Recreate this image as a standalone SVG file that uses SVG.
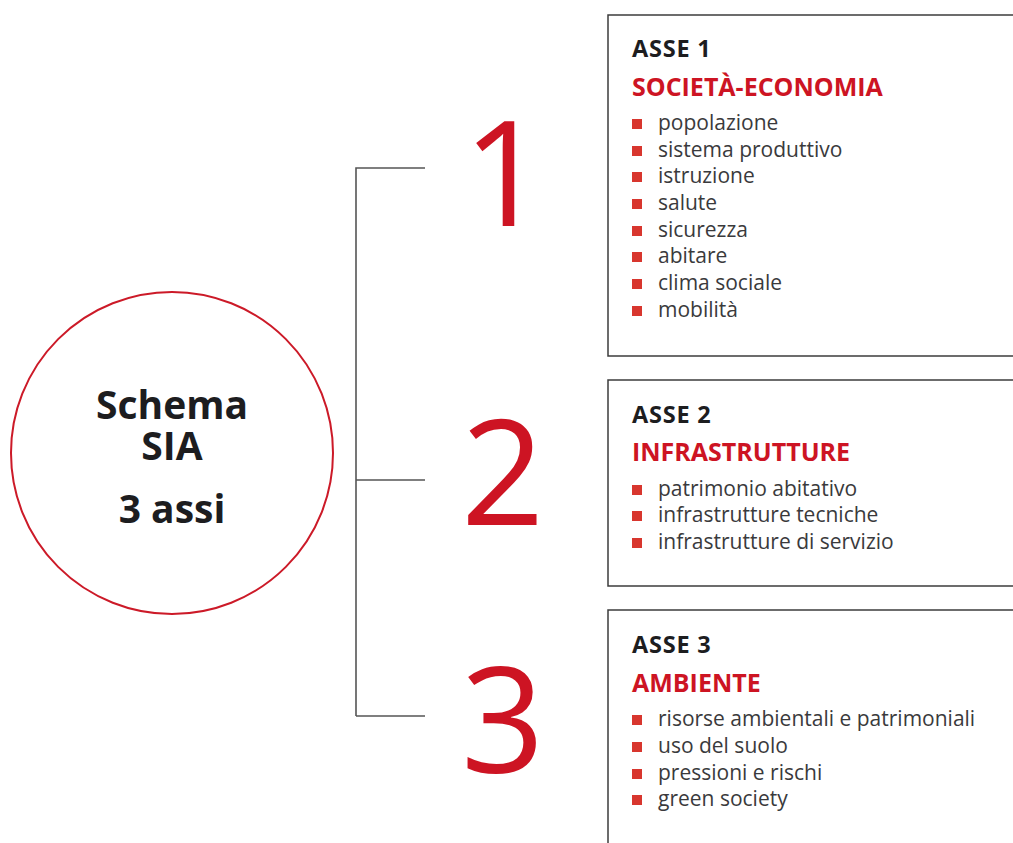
<svg xmlns="http://www.w3.org/2000/svg" width="1013" height="843" viewBox="0 0 1013 843">
  <style>
    .hub { fill: #ffffff; stroke: #cc1a28; stroke-width: 2; }
    .hubtxt { font-family: "Open Sans", "Noto Sans", sans-serif; font-weight: 700; font-size: 39px; fill: #1d1d1f; text-anchor: middle; }
    .box { fill: #ffffff; stroke: #3c3c3c; stroke-width: 1.5; }
    .num { font-family: "Open Sans", "Noto Sans", sans-serif; font-weight: 400; font-size: 146px; fill: #cd1423; }
    .axis { font-family: "Open Sans", "Noto Sans", sans-serif; font-weight: 700; font-size: 23.5px; letter-spacing: 0.8px; fill: #1d1d1f; }
    .title { font-family: "Open Sans", "Noto Sans", sans-serif; font-weight: 700; font-size: 25px; fill: #cd1423; }
    .item { font-family: "Open Sans", "Noto Sans", sans-serif; font-weight: 400; font-size: 21px; fill: #3a3a3c; }
    .bullet { fill: #d8362e; }
    .link { fill: none; stroke: #555555; stroke-width: 1.6; }
  </style>

  <!-- central hub -->
  <g id="hub">
    <circle class="hub" cx="172" cy="453" r="161"/>
    <text class="hubtxt" x="172" y="419">Schema</text>
    <text class="hubtxt" x="172" y="460">SIA</text>
    <text class="hubtxt" x="172" y="523">3 assi</text>
  </g>

  <!-- bracket connecting hub to the three axes -->
  <g id="connectors">
    <path class="link" d="M356,716 V168 H425"/>
    <path class="link" d="M356,480 H425"/>
    <path class="link" d="M356,716 H425"/>
  </g>

  <!-- axis numbers -->
  <g id="numbers">
    <text class="num" x="463" y="226">1</text>
    <text class="num" x="461" y="525">2</text>
    <text class="num" x="461" y="773">3</text>
  </g>

  <!-- axis 1 -->
  <g id="asse1">
    <path class="box" d="M1014,15 H608 V356 H1014"/>
    <text class="axis" x="632" y="57">ASSE 1</text>
    <text class="title" x="632" y="96">SOCIETÀ-ECONOMIA</text>
    <g class="bullet">
      <rect x="632" y="119" width="10" height="10"/>
      <rect x="632" y="146" width="10" height="10"/>
      <rect x="632" y="172" width="10" height="10"/>
      <rect x="632" y="199" width="10" height="10"/>
      <rect x="632" y="226" width="10" height="10"/>
      <rect x="632" y="252" width="10" height="10"/>
      <rect x="632" y="279" width="10" height="10"/>
      <rect x="632" y="306" width="10" height="10"/>
    </g>
    <text class="item" x="658" y="130">popolazione</text>
    <text class="item" x="658" y="157">sistema produttivo</text>
    <text class="item" x="658" y="183">istruzione</text>
    <text class="item" x="658" y="210">salute</text>
    <text class="item" x="658" y="237">sicurezza</text>
    <text class="item" x="658" y="263">abitare</text>
    <text class="item" x="658" y="290">clima sociale</text>
    <text class="item" x="658" y="317">mobilità</text>
  </g>

  <!-- axis 2 -->
  <g id="asse2">
    <path class="box" d="M1014,380 H608 V586 H1014"/>
    <text class="axis" x="632" y="423">ASSE 2</text>
    <text class="title" x="632" y="461">INFRASTRUTTURE</text>
    <g class="bullet">
      <rect x="632" y="485" width="10" height="10"/>
      <rect x="632" y="511" width="10" height="10"/>
      <rect x="632" y="538" width="10" height="10"/>
    </g>
    <text class="item" x="658" y="496">patrimonio abitativo</text>
    <text class="item" x="658" y="522">infrastrutture tecniche</text>
    <text class="item" x="658" y="549">infrastrutture di servizio</text>
  </g>

  <!-- axis 3 -->
  <g id="asse3">
    <path class="box" d="M1014,610 H608 V844"/>
    <text class="axis" x="632" y="653">ASSE 3</text>
    <text class="title" x="632" y="692">AMBIENTE</text>
    <g class="bullet">
      <rect x="632" y="715" width="10" height="10"/>
      <rect x="632" y="742" width="10" height="10"/>
      <rect x="632" y="769" width="10" height="10"/>
      <rect x="632" y="795" width="10" height="10"/>
    </g>
    <text class="item" x="658" y="726">risorse ambientali e patrimoniali</text>
    <text class="item" x="658" y="753">uso del suolo</text>
    <text class="item" x="658" y="780">pressioni e rischi</text>
    <text class="item" x="658" y="806">green society</text>
  </g>
</svg>
